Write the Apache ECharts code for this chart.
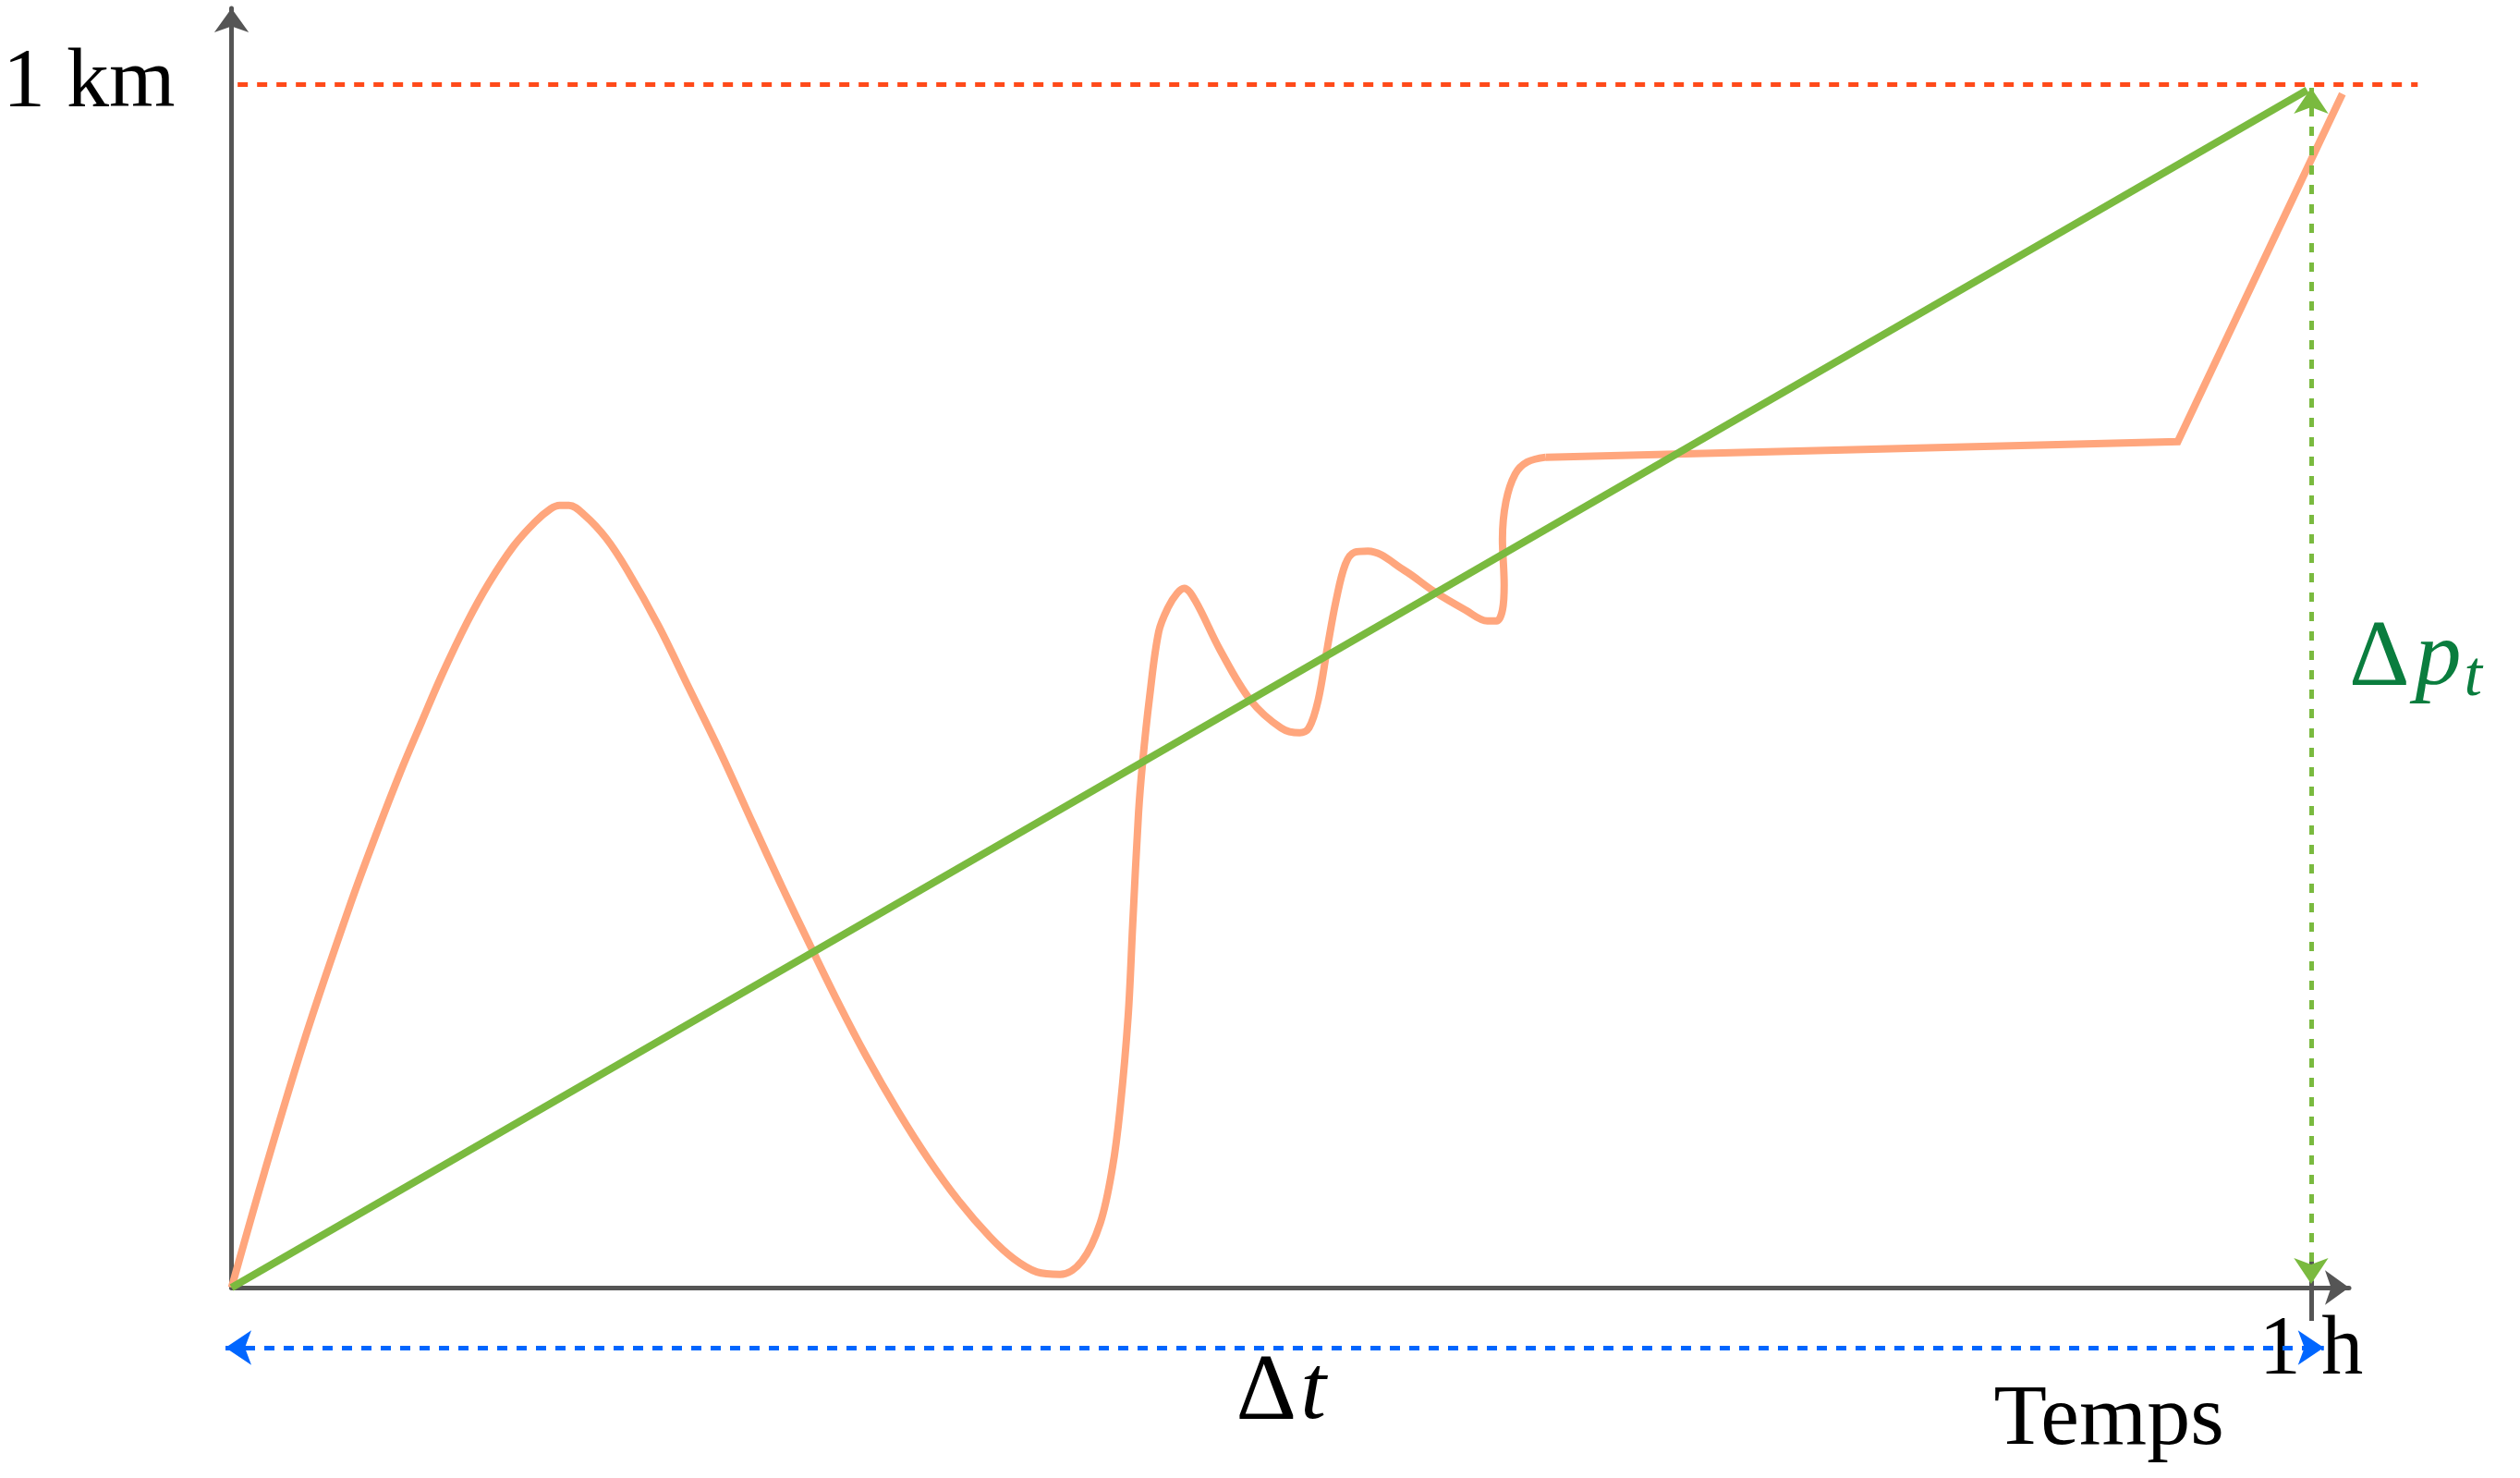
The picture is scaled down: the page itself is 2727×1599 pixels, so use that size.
<!DOCTYPE html>
<html lang="fr">
<head>
<meta charset="utf-8">
<title>Vitesse moyenne</title>
<script src="https://cdn.jsdelivr.net/npm/echarts@6.0.0/dist/echarts.min.js"></script>
<style>
  html, body { margin: 0; padding: 0; background: #fff; }
  #chart { width: 2727px; height: 1599px; }
</style>
</head>
<body>
<div id="chart"></div>
<script>
// trajet réel : temps (s) / distance (m)
const trajetTemps = [0, 57, 129, 206, 249, 292, 329, 365, 408, 445, 488, 525, 552, 568, 584, 611,
    648, 684, 739, 791, 847, 903, 952, 1002, 1051, 1099, 1153, 1206, 1259, 1313, 1354, 1394,
    1434, 1472, 1504, 1525, 1538, 1552, 1560, 1570, 1577, 1589, 1605, 1621, 1637, 1649, 1668,
    1711, 1764, 1817, 1849, 1865, 1881, 1897, 1912, 1928, 1944, 1967, 2030, 2083, 2136, 2174,
    2190, 2200, 2203, 2200, 2206, 2222, 2243, 2275];
const trajetDist = [0, 96, 210, 319, 375, 428, 470, 510, 553, 585, 616, 636, 647, 650, 650, 642,
    623, 597, 550, 499, 444, 385, 334, 284, 236, 192, 147, 107, 72, 42, 24, 13,
    11, 22, 54, 100, 148, 225, 302, 394, 436, 490, 545, 565, 577, 581, 571,
    530, 488, 465, 461, 465, 488, 532, 571, 601, 611, 612, 596, 578, 563, 554,
    554, 563, 584, 622, 653, 676, 686, 690];
// fin du trajet (segments droits)
const finTemps = [2275, 3369, 3654];
const finDist = [690, 703, 992];
// vitesse moyenne
const moyenneTemps = [0, 3593];
const moyenneDist = [0, 995];
// repères des axes
const repereTemps = [3600];
const repereDist = [1000];
const labelTemps = '1 h';
const labelDist = '1 km';

function pairs(xs, ys) {
    return xs.map((x, i) => [x, ys[i]]);
}

const serif = '"Liberation Serif", "DejaVu Serif", serif';
const grey = '#555555';
const orange = '#ffa67d';
const green = '#7aba3f';
const darkGreen = '#0a7d3e';
const red = '#ff4a1a';
const blue = '#0066ff';

const chart = echarts.init(document.getElementById('chart'));

chart.setOption({
    animation: false,
    backgroundColor: '#ffffff',
    grid: [
        {left: 244, top: 9, width: 2298, height: 1384},
        {left: 244, top: 9, width: 2456, height: 1590}
    ],
    xAxis: [
        {
            gridIndex: 0, type: 'value', min: 0, max: 3665.5,
            axisLine: {show: true, onZero: false, symbol: ['none', 'arrow'], symbolSize: [28, 26],
                lineStyle: {color: grey, width: 5}},
            axisTick: {show: true, customValues: repereTemps, length: 36, lineStyle: {color: grey, width: 5}},
            axisLabel: {customValues: repereTemps, formatter: () => labelTemps, margin: 69,
                verticalAlign: 'middle', fontFamily: serif, fontSize: 90, color: '#000'},
            splitLine: {show: false}
        },
        {gridIndex: 1, type: 'value', min: 0, max: 3917.5, show: false}
    ],
    yAxis: [
        {
            gridIndex: 0, type: 'value', min: 0, max: 1063,
            axisLine: {show: true, onZero: false, symbol: ['none', 'arrow'], symbolSize: [28, 26],
                lineStyle: {color: grey, width: 5}},
            axisTick: {show: false},
            axisLabel: {customValues: repereDist, formatter: () => labelDist, margin: 61,
                padding: [0, 0, 33, 0], fontFamily: serif, fontSize: 92, color: '#000'},
            splitLine: {show: false}
        },
        {gridIndex: 1, type: 'value', min: -158.2, max: 1063, show: false}
    ],
    series: [
        {
            name: 'trajet', type: 'line', xAxisIndex: 0, yAxisIndex: 0,
            data: pairs(trajetTemps, trajetDist),
            smooth: 0.35, showSymbol: false, clip: false, silent: true, z: 2,
            lineStyle: {color: orange, width: 8}
        },
        {
            name: 'trajet fin', type: 'line', xAxisIndex: 0, yAxisIndex: 0,
            data: pairs(finTemps, finDist),
            showSymbol: false, clip: false, silent: true, z: 2,
            lineStyle: {color: orange, width: 8, join: 'miter'}
        },
        {
            name: 'moyenne', type: 'line', xAxisIndex: 0, yAxisIndex: 0,
            data: pairs(moyenneTemps, moyenneDist),
            showSymbol: false, clip: false, silent: true, z: 3,
            lineStyle: {color: green, width: 8}
        },
        {
            name: 'annotations', type: 'line', xAxisIndex: 1, yAxisIndex: 1,
            data: [], silent: true, z: 4,
            markLine: {
                silent: true, animation: false, symbolSize: 28,
                label: {show: false},
                emphasis: {disabled: true},
                data: [
                    [
                        {coord: [21, 1000], symbol: 'none', lineStyle: {color: red, width: 5, type: [11, 10]}},
                        {coord: [3784, 1000], symbol: 'none'}
                    ],
                    [
                        {coord: [0, -49.9], symbol: 'arrow', lineStyle: {color: blue, width: 5, type: [11, 10]}},
                        {coord: [3622, -49.9], symbol: 'arrow'}
                    ],
                    [
                        {coord: [3600, 0], symbol: 'none', lineStyle: {color: grey, width: 5, type: 'solid'}},
                        {coord: [3600, 25.3], symbol: 'none'}
                    ],
                    [
                        {coord: [3600, 997], symbol: 'arrow', lineStyle: {color: green, width: 5, type: [10, 11]}},
                        {coord: [3600, 3], symbol: 'arrow'}
                    ]
                ]
            },
            markPoint: {
                silent: true, animation: false, symbol: 'circle', symbolSize: 1,
                itemStyle: {color: 'rgba(0,0,0,0)'},
                data: [
                    {
                        coord: [1822, -88.3],
                        label: {show: true, position: 'inside', align: 'center', formatter: '{d|Δ}{t|t}',
                            rich: {
                                d: {fontFamily: serif, fontSize: 102, lineHeight: 110, color: '#000'},
                                t: {fontFamily: serif, fontSize: 100, lineHeight: 110, fontStyle: 'italic',
                                    padding: [0, 0, 0, 4], color: '#000'}
                            }}
                    },
                    {
                        coord: [3665.5, 521.5],
                        label: {show: true, position: 'inside', align: 'left', formatter: '{d|Δ}{p|p}{s|t}',
                            rich: {
                                d: {fontFamily: serif, fontSize: 102, lineHeight: 110, color: darkGreen},
                                p: {fontFamily: serif, fontSize: 100, lineHeight: 110, fontStyle: 'italic',
                                    padding: [0, 0, 0, 6], color: darkGreen},
                                s: {fontFamily: serif, fontSize: 70, lineHeight: 58, fontStyle: 'italic',
                                    verticalAlign: 'bottom', padding: [0, 0, 0, 3], color: darkGreen}
                            }}
                    },
                    {
                        coord: [3251, -110.6],
                        label: {show: true, position: 'inside', align: 'center', formatter: 'Temps',
                            fontFamily: serif, fontSize: 94, color: '#000'}
                    }
                ]
            }
        }
    ]
});
</script>
</body>
</html>
